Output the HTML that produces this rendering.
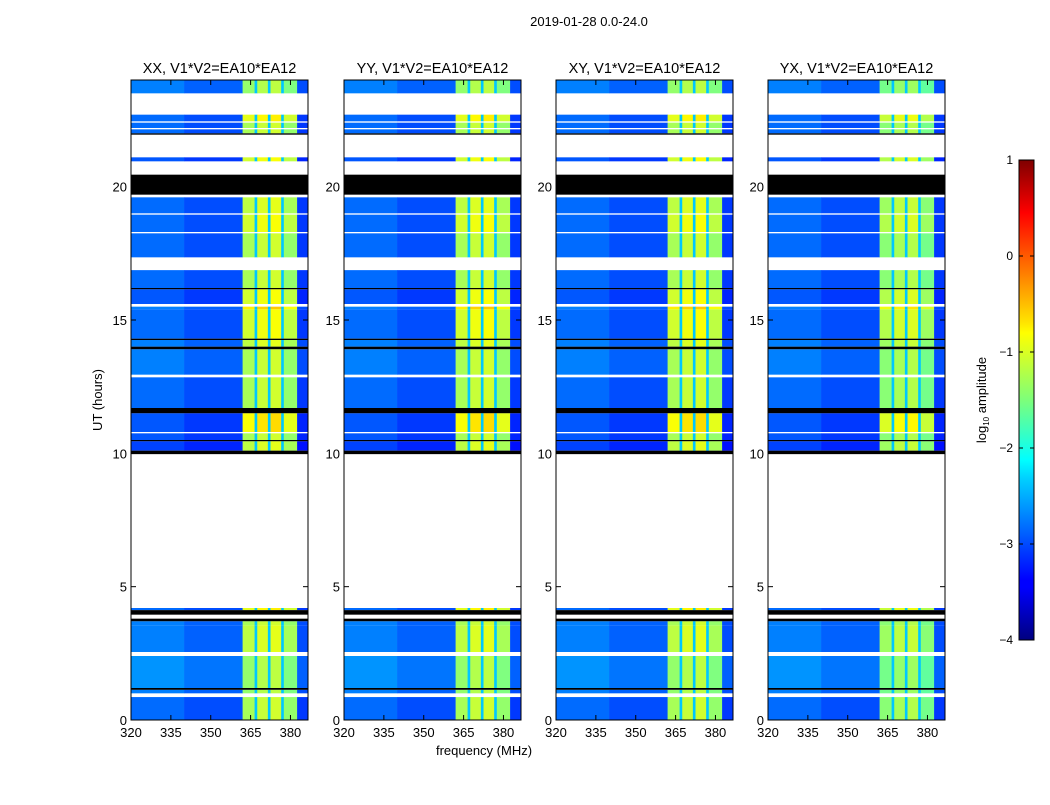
<!DOCTYPE html>
<html><head><meta charset="utf-8"><style>
body{margin:0;background:#fff;width:1050px;height:800px;overflow:hidden}
svg{font-family:"Liberation Sans",sans-serif}
</style></head><body>
<svg id="chart" width="1050" height="800" xmlns="http://www.w3.org/2000/svg">
<text x="589" y="26" font-size="13" text-anchor="middle">2019-01-28 0.0-24.0</text>
<text x="484" y="755" font-size="13" text-anchor="middle">frequency (MHz)</text>
<text transform="translate(102,400) rotate(-90)" font-size="13" text-anchor="middle">UT (hours)</text>
<defs><linearGradient id="jet" x1="0" y1="1" x2="0" y2="0">
<stop offset="0" stop-color="#00007f"/><stop offset="0.11" stop-color="#0000ff"/><stop offset="0.125" stop-color="#0000ff"/><stop offset="0.34" stop-color="#00d4ff"/><stop offset="0.375" stop-color="#0ff"/><stop offset="0.5" stop-color="#7dff7a"/><stop offset="0.64" stop-color="#ff0"/><stop offset="0.66" stop-color="#ffe600"/><stop offset="0.89" stop-color="#ff0000"/><stop offset="1" stop-color="#7f0000"/>
</linearGradient></defs>
<g id="panels"></g>
<g id="cbar">
<rect x="1019" y="160" width="15" height="480" fill="url(#jet)" stroke="#000" stroke-width="1"/>
<text transform="translate(986,400) rotate(-90)" font-size="13" text-anchor="middle">log<tspan font-size="8" dy="3">10</tspan><tspan dy="-3"> amplitude</tspan></text>
</g>
</svg>
<script>
const panelTitles=["XX, V1*V2=EA10*EA12","YY, V1*V2=EA10*EA12","XY, V1*V2=EA10*EA12","YX, V1*V2=EA10*EA12"];
const xTicks=[320,335,350,365,380];
const yTicks=[0,5,10,15,20];
const cbTicks=[1,0,-1,-2,-3,-4];
// time segments (UT hours); kind 0=data,1=white(flagged),2=black(zero)
const segStart=[23.5,22.7,22.45,22.4,22.2,22.15,22.0,21.95,21.1,20.95,20.45,19.7,19.6,19.0,18.95,18.3,18.25,17.35,16.87,16.2,16.15,15.6,15.5,15.4,14.3,14.25,14.0,13.9,12.95,12.85,11.7,11.5,10.8,10.75,10.5,10.45,10.1,9.97,4.2,4.12,3.95,3.8,3.7,3.55,2.55,2.4,1.2,1.13,1.0,0.86,0];
const segEnd=[24,23.5,22.7,22.45,22.4,22.2,22.15,22.0,21.95,21.1,20.95,20.45,19.7,19.6,19.0,18.95,18.3,18.25,17.35,16.87,16.2,16.15,15.6,15.5,15.4,14.3,14.25,14.0,13.9,12.95,12.85,11.7,11.5,10.8,10.75,10.5,10.45,10.1,9.97,4.2,4.12,3.95,3.8,3.7,3.55,2.55,2.4,1.2,1.13,1.0,0.86];
const segKind=[0,1,0,1,0,1,0,2,1,0,1,2,1,0,1,0,1,0,1,0,2,0,1,0,0,2,0,2,0,1,0,2,0,1,0,2,0,2,1,0,2,1,2,0,0,1,0,2,0,1,0];
const segBand=[-1.3,0,-0.9,0,-1.2,0,-1.2,0,0,-1.0,0,0,0,-1.1,0,-1.0,0,-1.2,0,-1.2,0,-1.0,0,-0.7,-1.0,0,-1.1,0,-1.2,0,-1.2,0,-0.8,0,-1.2,0,-1.1,0,0,-0.9,0,0,0,-1.2,-1.1,0,-1.3,0,-1.3,0,-1.2];
const segBase=[-2.9,0,-3.0,0,-3.0,0,-3.0,0,0,-3.1,0,0,0,-3.0,0,-3.0,0,-3.0,0,-3.0,0,-3.1,0,-2.9,-3.0,0,-2.9,0,-2.9,0,-3.0,0,-3.1,0,-3.1,0,-3.2,0,0,-3.0,0,0,0,-2.9,-2.9,0,-2.8,0,-2.9,0,-3.0];
// frequency bins (MHz); type 0=off-band, 1=band, 2=band notch
const freqEdges=[320,340,362,366.5,367.5,371.5,372.5,376.5,377.5,382.5,386.6];
const freqType=[0,0,1,2,1,2,1,2,1,0];
const freqOffset=[0.15,0,-0.1,0,0.05,0,0.1,0,-0.2,-0.1];
const panelBandOffset=[0,0,0,-0.15];

const NS="http://www.w3.org/2000/svg";
const panelX=[131,344,556,768],PW=177,PT=80,PB=720;
const fmin=320,fmax=386.6,tmin=0,tmax=24;
function jet(v){let t=(v+4)/5;t=Math.max(0,Math.min(1,t));
 const c=x=>Math.round(255*Math.max(0,Math.min(1,1.5-Math.abs(4*t-x))));
 return `rgb(${c(3)},${c(2)},${c(1)})`;}
function el(tag,attrs,parent){const e=document.createElementNS(NS,tag);for(const k in attrs)e.setAttribute(k,attrs[k]);parent.appendChild(e);return e;}
const root=document.getElementById('panels');
panelTitles.forEach((title,p)=>{
 const x0=panelX[p];
 const xs=f=>x0+(f-fmin)/(fmax-fmin)*PW;
 const ys=h=>PB-(h-tmin)/(tmax-tmin)*(PB-PT);
 const g=el('g',{},root);
 
 
 segStart.forEach((s,i)=>{
  const y1=ys(segEnd[i]),y2=ys(s);
  if(segKind[i]===1)return;
  if(segKind[i]===2){const r=el('rect',{x:x0,y:y1,width:PW,height:Math.max(1,y2-y1),fill:'#000'},g);
   return;}
  for(let j=0;j<freqType.length;j++){
   let v=freqType[j]===0?segBase[i]+freqOffset[j]:freqType[j]===1?segBand[i]+freqOffset[j]+panelBandOffset[p]:-2.4;
   const r=el('rect',{x:xs(freqEdges[j]),y:y1,width:xs(freqEdges[j+1])-xs(freqEdges[j])+0.3,height:Math.max(1,y2-y1),fill:jet(v)},g);
   
   
  }
 });
 el('rect',{x:x0,y:PT,width:PW,height:PB-PT,fill:'none',stroke:'#000','stroke-width':1},g);
 const t=el('text',{x:x0+PW/2,y:73,'font-size':14.5,'text-anchor':'middle'},g);t.textContent=title;
 
 xTicks.forEach(f=>{const x=xs(f);
  el('line',{x1:x,x2:x,y1:PB,y2:PB-5,stroke:'#000'},g);el('line',{x1:x,x2:x,y1:PT,y2:PT+5,stroke:'#000'},g);
  const tx=el('text',{x:x,y:737,'font-size':13,'text-anchor':'middle'},g);tx.textContent=f;
  });
 yTicks.forEach(h=>{const y=ys(h);
  el('line',{x1:x0,x2:x0+5,y1:y,y2:y,stroke:'#000'},g);el('line',{x1:x0+PW,x2:x0+PW-5,y1:y,y2:y,stroke:'#000'},g);
  const ty=el('text',{x:x0-4,y:y+5,'font-size':13,'text-anchor':'end'},g);ty.textContent=h;
  });
});
const cb=document.getElementById('cbar');
cbTicks.forEach(v=>{const y=160+(1-v)/5*480;
 el('line',{x1:1019,x2:1023,y1:y,y2:y,stroke:'#000'},cb);el('line',{x1:1034,x2:1030,y1:y,y2:y,stroke:'#000'},cb);
 const t=el('text',{x:1013,y:y+4,'font-size':12,'text-anchor':'end'},cb);t.textContent=v<0?'\u2212'+(-v):v;
 });
</script>
</body></html>
